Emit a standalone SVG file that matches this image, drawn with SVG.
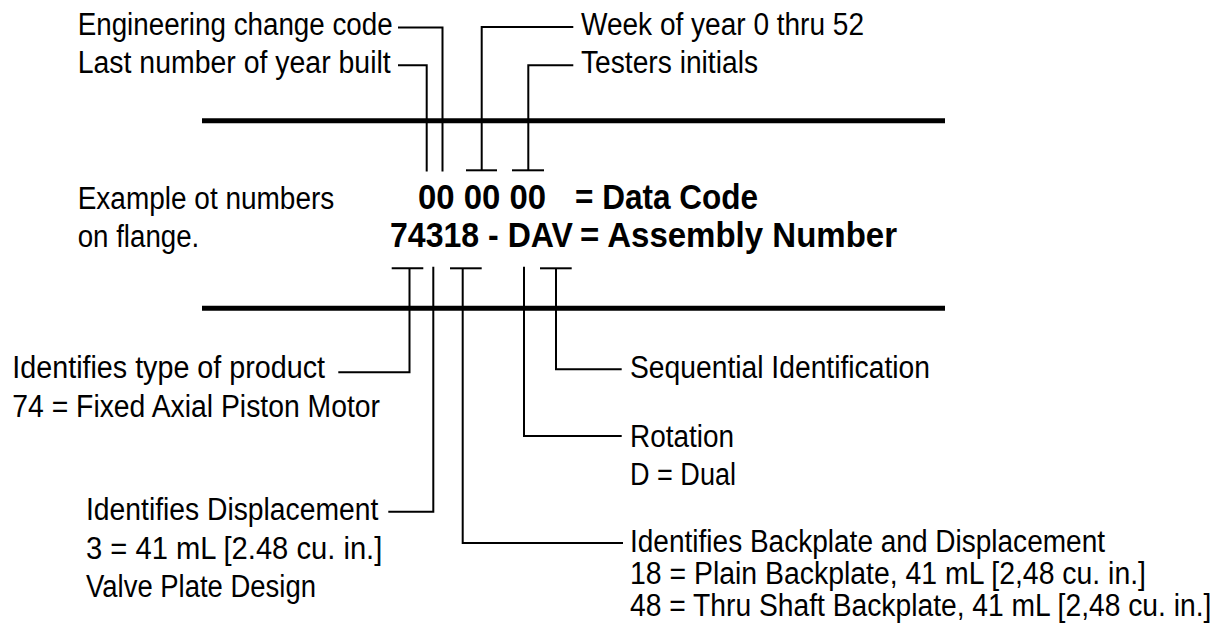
<svg xmlns="http://www.w3.org/2000/svg" width="1228" height="635" viewBox="0 0 1228 635">
<style>
  .t { font-family: "Liberation Sans", Arial, sans-serif; font-size: 31px; fill: #000; }
  .b { font-family: "Liberation Sans", Arial, sans-serif; font-size: 35px; font-weight: bold; fill: #000; }
  .thick { stroke: #000; stroke-width: 5; fill: none; }
  .ln { stroke: #000; stroke-width: 2; fill: none; }
</style>
<rect width="1228" height="635" fill="#fff"/>

<g id="flange">
  <line class="thick" x1="202" y1="120.7" x2="945" y2="120.7"/>
  <line class="thick" x1="202" y1="308.3" x2="945" y2="308.3"/>
</g>

<g id="connectors">
  <!-- top -->
  <polyline class="ln" points="398,27.5 442.5,27.5 442.5,171.5"/>
  <polyline class="ln" points="398,65.3 426.7,65.3 426.7,171.5"/>
  <polyline class="ln" points="573.3,27 481.7,27 481.7,170.3"/>
  <line class="ln" x1="466" y1="170.3" x2="497" y2="170.3"/>
  <polyline class="ln" points="573.3,65.3 528.3,65.3 528.3,170.3"/>
  <line class="ln" x1="512" y1="170.3" x2="544" y2="170.3"/>
  <!-- bottom -->
  <line class="ln" x1="391.7" y1="268.3" x2="423.3" y2="268.3"/>
  <polyline class="ln" points="409.5,268.3 409.5,372.3 338.3,372.3"/>
  <polyline class="ln" points="433.3,266.7 433.3,511.7 388.3,511.7"/>
  <line class="ln" x1="450" y1="268.3" x2="481.7" y2="268.3"/>
  <polyline class="ln" points="462.7,268.3 462.7,543 623,543"/>
  <polyline class="ln" points="524,266.7 524,436 621.7,436"/>
  <line class="ln" x1="540" y1="268.3" x2="571.7" y2="268.3"/>
  <polyline class="ln" points="556,268.3 556,369.3 621.7,369.3"/>
</g>

<g id="label-eco">
  <text class="t" x="77.7" y="34.5" textLength="315" lengthAdjust="spacingAndGlyphs">Engineering change code</text>
</g>
<g id="label-year">
  <text class="t" x="77.7" y="72.7" textLength="313" lengthAdjust="spacingAndGlyphs">Last number of year built</text>
</g>
<g id="label-week">
  <text class="t" x="581" y="35" textLength="283" lengthAdjust="spacingAndGlyphs">Week of year 0 thru 52</text>
</g>
<g id="label-testers">
  <text class="t" x="581" y="72.7" textLength="177" lengthAdjust="spacingAndGlyphs">Testers initials</text>
</g>

<g id="example-note">
  <text class="t" x="77.7" y="209.3" textLength="256.6" lengthAdjust="spacingAndGlyphs">Example ot numbers</text>
  <text class="t" x="77.7" y="247.3" textLength="121.6" lengthAdjust="spacingAndGlyphs">on flange.</text>
</g>

<g id="data-code">
  <text class="b" x="418" y="209" textLength="128" lengthAdjust="spacingAndGlyphs">00 00 00</text>
  <text class="b" x="575" y="209" textLength="183" lengthAdjust="spacingAndGlyphs">= Data Code</text>
</g>
<g id="assembly-number">
  <text class="b" x="390" y="247" textLength="183" lengthAdjust="spacingAndGlyphs">74318 - DAV</text>
  <text class="b" x="580" y="247" textLength="317" lengthAdjust="spacingAndGlyphs">= Assembly Number</text>
</g>

<g id="label-type">
  <text class="t" x="12.3" y="378.3" textLength="312.7" lengthAdjust="spacingAndGlyphs">Identifies type of product</text>
  <text class="t" x="12.3" y="416.7" textLength="367.7" lengthAdjust="spacingAndGlyphs">74 = Fixed Axial Piston Motor</text>
</g>
<g id="label-displacement">
  <text class="t" x="86" y="520" textLength="292.3" lengthAdjust="spacingAndGlyphs">Identifies Displacement</text>
  <text class="t" x="86" y="559.3" textLength="296.3" lengthAdjust="spacingAndGlyphs">3 = 41 mL [2.48 cu. in.]</text>
  <text class="t" x="86" y="597.3" textLength="230" lengthAdjust="spacingAndGlyphs">Valve Plate Design</text>
</g>
<g id="label-sequential">
  <text class="t" x="630" y="378.3" textLength="300" lengthAdjust="spacingAndGlyphs">Sequential Identification</text>
</g>
<g id="label-rotation">
  <text class="t" x="630" y="447" textLength="104" lengthAdjust="spacingAndGlyphs">Rotation</text>
  <text class="t" x="630" y="485" textLength="106" lengthAdjust="spacingAndGlyphs">D = Dual</text>
</g>
<g id="label-backplate">
  <text class="t" x="630" y="552" textLength="475" lengthAdjust="spacingAndGlyphs">Identifies Backplate and Displacement</text>
  <text class="t" x="630" y="584" textLength="516" lengthAdjust="spacingAndGlyphs">18 = Plain Backplate, 41 mL [2,48 cu. in.]</text>
  <text class="t" transform="translate(630 616) scale(0.911 1)">48 = Thru Shaft Backplate, 41 mL [2,48 cu. in.]</text>
</g>
</svg>
